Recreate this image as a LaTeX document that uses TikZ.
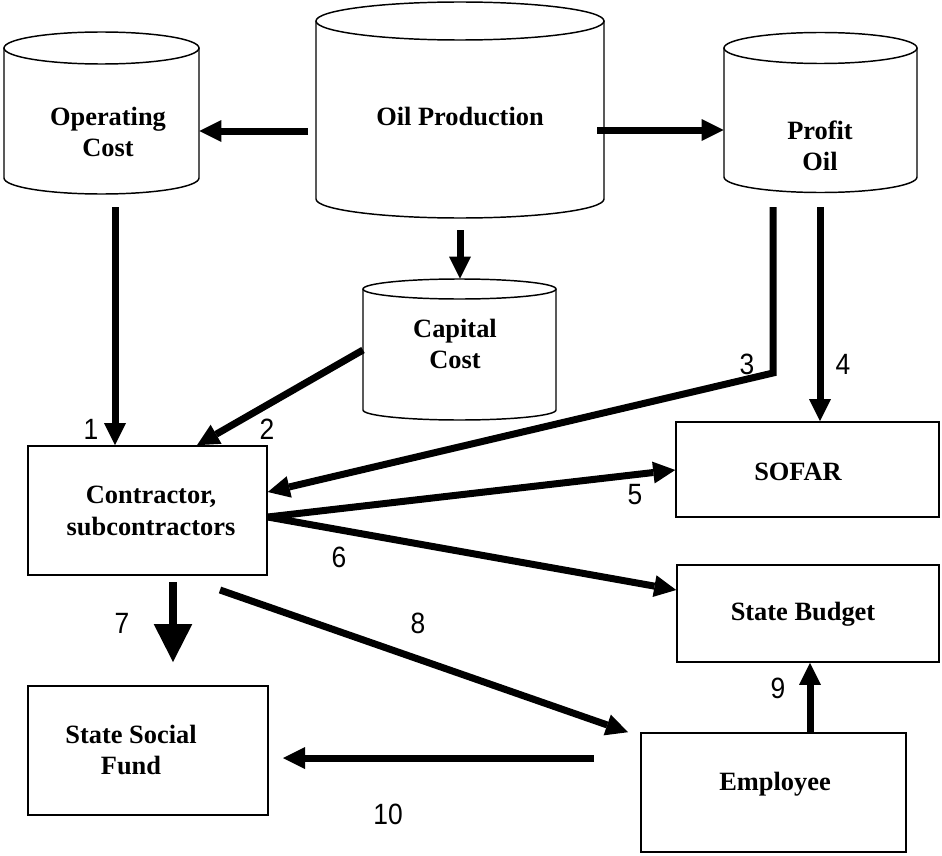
\documentclass[tikz,border=0pt]{standalone}
\usepackage{fontspec}
\setmainfont{Liberation Serif}
\newfontfamily\numfont[FakeStretch=0.9]{Liberation Sans}
\usetikzlibrary{arrows.meta,fit}
\tikzset{
  cylline/.style={line width=1.1pt},
  box/.style={draw, line width=1.2pt, inner sep=0pt},
  area/.style={inner sep=0pt},
  txt/.style={font=\fontsize{19.8pt}{23.6pt}\selectfont\bfseries, align=center, inner sep=0pt},
  num/.style={font=\numfont\fontsize{22pt}{24pt}\selectfont, inner sep=0pt},
  arr/.style={line width=5.25pt, -{Triangle[length=16.5pt,width=16.5pt,line width=0pt]}},
  bigarr/.style={line width=6pt, -{Triangle[length=28.5pt,width=29pt,line width=0pt]}},
}
\newcommand{\mycyl}[5]{%
  \draw[cylline] (#1,#3) -- (#1,#4) arc[start angle=180,end angle=360,x radius={(#2-#1)*0.375pt},y radius={#5*0.75pt}] -- (#2,#3);
  \draw[cylline] ({(#1+#2)/2},#3) ellipse[x radius={(#2-#1)*0.375pt},y radius={#5*0.75pt}];
}
\begin{document}
\begin{tikzpicture}[x=0.75pt,y=-0.75pt]
\fill[white] (0,0) rectangle (942,856);
\useasboundingbox (0,0) rectangle (942,856);

% cylinders
\mycyl{4}{199}{48}{178}{16}
\mycyl{316}{604}{21}{199}{19}
\mycyl{724}{917}{48}{177}{15.5}
\mycyl{363}{556}{289}{410}{10}
\node[area, fit={(4,32) (199,194)}] (opcb) {};
\node[area, fit={(316,2) (604,218)}] (oilb) {};
\node[area, fit={(724,32) (917,192)}] (prob) {};
\node[area, fit={(363,279) (556,420)}] (capb) {};
\node[txt] (opc) at (108,132) {Operating\\Cost};
\node[txt] (oil) at (460,117) {Oil Production};
\node[txt] (pro) at (820,146) {Profit\\Oil};
\node[txt] (cap) at (455,344) {Capital\\Cost};

% boxes
\node[box, fit={(28,446) (267,575)}] (con) {};
\node[txt] (cont) at (151,511) {Contractor,\\subcontractors};
\node[box, fit={(676,422) (939,517)}] (sof) {};
\node[txt] (soft) at (798,472) {SOFAR};
\node[box, fit={(677,565) (939,662)}] (bud) {};
\node[txt] (budt) at (803,614) {State Budget};
\node[box, fit={(28,686) (268,815)}] (ssf) {};
\node[txt] (ssft) at (131,750) {State Social\\Fund};
\node[box, fit={(641,733) (906,852)}] (emp) {};
\node[txt] (empt) at (775,784) {Employee};

% coordinates
\coordinate (s1) at (308,131);
\coordinate (s2) at (597,130);
\coordinate (s3) at (460,230);
\coordinate (s4) at (115,207);
\coordinate (s5) at (363,350);
\coordinate (e2) at (197,446);
\coordinate (s6) at (773,207);
\coordinate (k3) at (773,373);
\coordinate (e3) at (267,492);
\coordinate (s7) at (820,207);
\coordinate (o5) at (267,517);
\coordinate (e5) at (676,470);
\coordinate (e6) at (677,590);
\coordinate (s8) at (173,582);
\coordinate (e8) at (173,662);
\coordinate (s9) at (220,590);
\coordinate (e9) at (628,733);
\coordinate (s10) at (810,700);
\coordinate (s11) at (594,758);
\coordinate (e11) at (283,758);

% connectors
\draw[arr] (s1) -- (s1 -| opcb.east);
\draw[arr] (s2) -- (s2 -| prob.west);
\draw[arr] (s3) -- (s3 |- capb.north);
\draw[arr] (s4) -- (s4 |- con.north);
\draw[arr] (s5) -- (e2 |- con.north);
\draw[arr, line join=miter] (s6) -- (k3) -- (e3 -| con.east);
\draw[arr] (s7) -- (s7 |- sof.north);
\draw[arr] (con.east |- o5) -- (sof.west |- e5);
\draw[arr] (con.east |- o5) -- (bud.west |- e6);
\draw[bigarr] (s8) -- (e8);
\draw[arr] (s9) -- (e9 |- emp.north);
\draw[arr] (emp.north -| s10) -- (bud.south -| s10);
\draw[arr] (s11) -- (e11);

% labels
\node[num] (n1) at (91,429) {1};
\node[num] (n2) at (267,429) {2};
\node[num] (n3) at (747,364) {3};
\node[num] (n4) at (843,364) {4};
\node[num] (n5) at (635,495) {5};
\node[num] (n6) at (339,557) {6};
\node[num] (n7) at (122,623) {7};
\node[num] (n8) at (418,623) {8};
\node[num] (n9) at (778,688) {9};
\node[num] (n10) at (388,814) {10};
\end{tikzpicture}
\end{document}
